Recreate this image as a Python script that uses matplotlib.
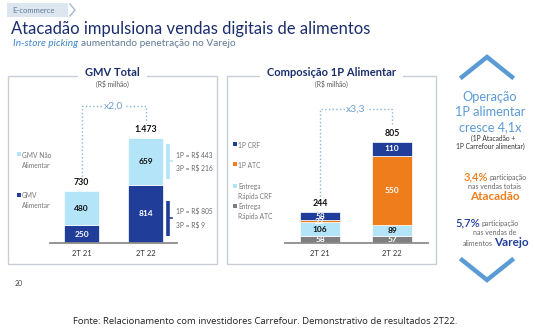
import numpy as np
import matplotlib.pyplot as plt
from matplotlib.patches import Rectangle

plt.rcParams['font.family'] = ['Lato', 'DejaVu Sans']

# ---- data ----
periods = ['2T 21', '2T 22']
gmv_alimentar = [250, 814]
gmv_nao_alimentar = [480, 659]
gmv_totals = ['730', '1.473']
gmv_split_nao_alim = '1P = R$ 443\n3P = R$ 216'
gmv_split_alim = '1P = R$ 805\n3P = R$ 9'
gmv_growth = 'x2,0'

comp_series = ['Entrega\nRápida ATC', 'Entrega\nRápida CRF', '1P ATC', '1P CRF']
entrega_atc = [58, 57]
entrega_crf = [106, 89]
p1_atc = [22, 550]
p1_crf = [58, 110]
comp_totals = ['244', '805']
comp_growth = 'x3,3'

navy = '#1f3d99'
light = '#b3e4f8'
orange = '#ef7d1b'
gray = '#7f7f7f'
title_navy = '#1b2f6d'
sky = '#5b9bd5'
dots = '#8ab8dc'

W, H = 534, 333
fig = plt.figure(figsize=(W / 100, H / 100), dpi=100)
ax0 = fig.add_axes([0, 0, 1, 1])
ax0.set_xlim(0, W)
ax0.set_ylim(H, 0)
ax0.axis('off')
renderer = fig.canvas.get_renderer()


def box(x0, x1, y0, y1):
    return [x0 / W, 1 - y1 / H, (x1 - x0) / W, (y1 - y0) / H]


def text_right_edge(t):
    bb = t.get_window_extent(renderer=renderer)
    return bb.x1  # pixels from left, same as ax0 x units here


# header
ax0.add_patch(Rectangle((7, 3), 61, 14, color='#dde5ee', lw=0))
ax0.plot([70, 75, 70], [4, 10, 16], color='#9fb9d3', lw=1)
ax0.text(12, 10.5, 'E-commerce', fontsize=5.5, color='#5d7a99', va='center')
ax0.text(11, 29, 'Atacadão impulsiona vendas digitais de alimentos', fontsize=12,
         color=title_navy, va='center')
t_sub = ax0.text(13, 44, 'In-store picking', fontsize=7.3, style='italic', color='#3f86c8',
                 va='center')
ax0.text(text_right_edge(t_sub) + 3, 44, 'aumentando penetração no Varejo', fontsize=7.3,
         color='#5f7a95', va='center')

# panels
for x0, x1, title in [(8, 217, 'GMV Total'), (227, 436, 'Composição 1P Alimentar')]:
    ax0.add_patch(Rectangle((x0, 76), x1 - x0, 188, fill=False, ec='#c9ced4', lw=1))
    xc = (x0 + x1) / 2
    ax0.text(xc, 72, title, fontsize=8, fontweight='bold', color=title_navy, ha='center',
             va='center', bbox=dict(fc='white', ec='none', pad=5))
    ax0.text(xc, 84, '(R$ milhão)', fontsize=4.8, color='#555555', ha='center', va='center')

# left legend
for y, c, lab in [(154, light, 'GMV Não\nAlimentar'), (195, navy, 'GMV\nAlimentar')]:
    ax0.add_patch(Rectangle((17, y - 2), 4, 4, color=c, lw=0))
    ax0.text(22, y - 2.5, lab, fontsize=4.8, color='#777777', va='top', linespacing=1.5)

# right legend
for y, c, lab in [(144, navy, '1P CRF'), (164, orange, '1P ATC'),
                  (186, light, 'Entrega\nRápida CRF'), (206, gray, 'Entrega\nRápida ATC')]:
    ax0.add_patch(Rectangle((233, y - 2), 4, 4, color=c, lw=0))
    ax0.text(238, y - 2.5, lab, fontsize=4.8, color='#777777', va='top', linespacing=1.5)


def style_axis(ax):
    for s in ['left', 'right', 'top']:
        ax.spines[s].set_visible(False)
    ax.spines['bottom'].set_color('#8c8c8c')
    ax.spines['bottom'].set_linewidth(1.3)
    ax.set_yticks([])
    ax.set_xticks(range(len(periods)))
    ax.set_xticklabels(periods, fontsize=5.5, color='#333333')
    ax.tick_params(axis='x', length=0, pad=5)
    ax.patch.set_alpha(0)


def seg_label(ax, xs, bottoms, vals, color):
    for xi, b, v in zip(xs, bottoms, vals):
        ax.text(xi, b + v / 2, str(v), ha='center', va='center', fontsize=6,
                fontweight='bold', color=color)


# ---- left chart: GMV Total ----
axL = fig.add_axes(box(50, 177, 95, 243))
x = np.arange(len(periods))
bw = 35 / 64
axL.bar(x, gmv_alimentar, bw, color=navy, edgecolor='white', lw=0.5)
axL.bar(x, gmv_nao_alimentar, bw, bottom=gmv_alimentar, color=light, edgecolor='white', lw=0.5)
axL.set_xlim(-31.5 / 64, 95.5 / 64)
axL.set_ylim(0, 148 / 0.0713)
style_axis(axL)
seg_label(axL, x, [0, 0], gmv_alimentar, 'white')
seg_label(axL, x, gmv_alimentar, gmv_nao_alimentar, '#111111')
tot = np.add(gmv_alimentar, gmv_nao_alimentar)
for xi, t, lab in zip(x, tot, gmv_totals):
    axL.annotate(lab, (xi, t), xytext=(0, 3), textcoords='offset points', ha='center',
                 va='bottom', fontsize=6.3, fontweight='bold', color='#111111')

# growth connector
top = 1921
axL.plot([0, 0, 1, 1], [tot[0] + 160, top, top, tot[1] + 210], ls=':', color=dots, lw=1,
         clip_on=False)
axL.text(0.5, top, gmv_growth, ha='center', va='center', fontsize=7.5, color='#6f9fd0',
         bbox=dict(fc='white', ec='none', pad=1))

# brackets for split 1P / 3P
bx = (168 - 81.5) / 64
for bottom, val, c, txt in [(gmv_alimentar[1], gmv_nao_alimentar[1], light, gmv_split_nao_alim),
                            (0, gmv_alimentar[1], navy, gmv_split_alim)]:
    mid = bottom + val / 2
    if bottom == 0:
        mid = 575 / 2 + 98 / 2 + 10
    half = 245
    axL.plot([bx, bx], [mid - half, mid + half], color=c, lw=2.6, solid_capstyle='butt',
             clip_on=False)
    axL.plot([bx, bx + 0.06], [mid, mid], color=c, lw=1.2, clip_on=False)
    axL.text(bx + 0.125, mid, txt, fontsize=4.8, color='#666666', va='center',
             linespacing=1.9, clip_on=False)

# ---- right chart: Composicao 1P Alimentar ----
axR = fig.add_axes(box(285, 428, 95, 243))
bw2 = 40 / 72
b1 = np.array(entrega_atc)
b2 = b1 + np.array(entrega_crf)
b3 = b2 + np.array(p1_atc)
axR.bar(x, entrega_atc, bw2, color=gray, edgecolor='white', lw=0.5)
axR.bar(x, entrega_crf, bw2, bottom=b1, color=light, edgecolor='white', lw=0.5)
axR.bar(x, p1_atc, bw2, bottom=b2, color=orange, edgecolor='white', lw=0.5)
axR.bar(x, p1_crf, bw2, bottom=b3, color=navy, edgecolor='white', lw=0.5)
axR.set_xlim(-35 / 72, 108 / 72)
axR.set_ylim(0, 148 / 0.1255)
style_axis(axR)
seg_label(axR, x, [0, 0], entrega_atc, 'white')
seg_label(axR, x, b1, entrega_crf, '#111111')
seg_label(axR, x, b2, p1_atc, 'white')
seg_label(axR, x, b3, p1_crf, 'white')
tot2 = b3 + np.array(p1_crf)
for xi, t, lab in zip(x, tot2, comp_totals):
    axR.annotate(lab, (xi, t), xytext=(0, 3), textcoords='offset points', ha='center',
                 va='bottom', fontsize=6.3, fontweight='bold', color='#111111')
top2 = 1068
axR.plot([0, 0, 1, 1], [tot2[0] + 100, top2, top2, tot2[1] + 135], ls=':', color=dots, lw=1,
         clip_on=False)
axR.text(0.5, top2, comp_growth, ha='center', va='center', fontsize=7.5, color='#6f9fd0',
         bbox=dict(fc='white', ec='none', pad=1))

# ---- right column ----
ax0.plot([462, 487, 512], [77, 57, 77], color=sky, lw=3.2, solid_joinstyle='miter')
ax0.plot([462, 487, 512], [260, 280, 260], color=sky, lw=3.2, solid_joinstyle='miter')
for y, s in [(97, 'Operação'), (112, '1P alimentar'), (127, 'cresce 4,1x')]:
    ax0.text(490, y, s, fontsize=9.2, color=sky, ha='center', va='center')
ax0.text(493, 138, '(1P Atacadão +', fontsize=4.8, color='#333333', ha='center', va='center')
ax0.text(490, 146.5, '1P Carrefour alimentar)', fontsize=4.8, color='#333333', ha='center',
         va='center')

ax0.text(488, 177, '3,4%', fontsize=8, fontweight='semibold', color=orange, ha='right',
         va='center')
ax0.text(489.5, 177.5, 'participação', fontsize=5, color='#666666', ha='left', va='center')
ax0.text(495, 186.5, 'nas vendas totais', fontsize=5, color='#666666', ha='center', va='center')
ax0.text(495, 197, 'Atacadão', fontsize=8.5, fontweight='bold', color=orange, ha='center',
         va='center')

ax0.text(480, 223, '5,7%', fontsize=8, fontweight='semibold', color=navy, ha='right',
         va='center')
ax0.text(481.5, 223.5, 'participação', fontsize=5, color='#666666', ha='left', va='center')
ax0.text(495, 232.5, 'nas vendas de', fontsize=5, color='#666666', ha='center', va='center')
ax0.text(493, 243.5, 'alimentos', fontsize=5, color='#666666', ha='right', va='center')
ax0.text(494.5, 243, 'Varejo', fontsize=8.5, fontweight='bold', color=navy, ha='left',
         va='center')

# footer
ax0.text(19, 284, '20', fontsize=5, color='#444444', ha='center', va='center')
ax0.text(265, 321, 'Fonte: Relacionamento com investidores Carrefour. Demonstrativo de resultados 2T22.',
         fontsize=6.8, color='#222222', ha='center', va='center', family=['Open Sans', 'DejaVu Sans'])

fig.savefig('out.png', dpi=100)
